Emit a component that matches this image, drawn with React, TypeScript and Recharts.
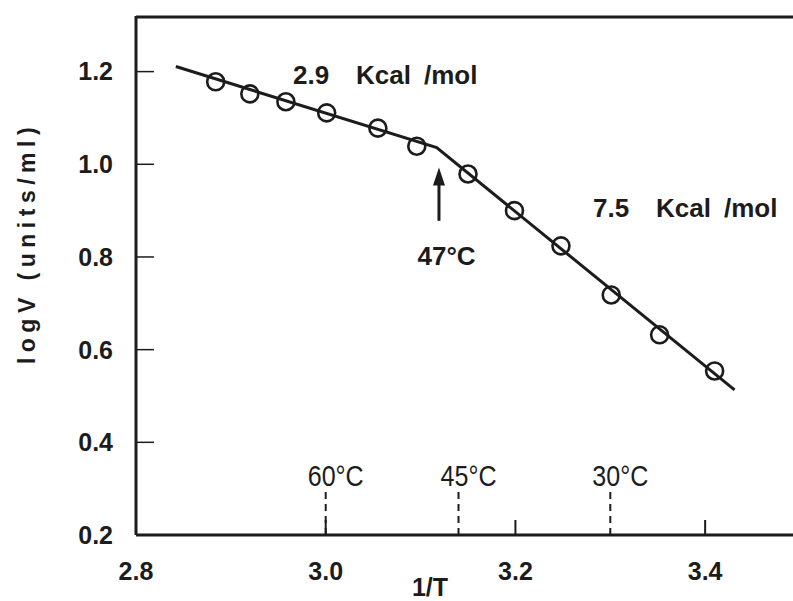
import { ComposedChart, Line, Scatter, XAxis, YAxis, ReferenceLine, ReferenceDot } from "recharts";

// measured points (1/T x 1000, log V)
const invT = [2.884, 2.92, 2.958, 3.001, 3.055, 3.096, 3.15, 3.199, 3.248, 3.301, 3.352, 3.41];
const logV = [1.178, 1.152, 1.135, 1.111, 1.078, 1.039, 0.979, 0.9, 0.824, 0.718, 0.632, 0.554];

// fitted two-segment line
const fitX = [2.842, 3.117, 3.431];
const fitY = [1.211, 1.036, 0.513];

const xTicks = [2.8, 3.0, 3.2, 3.4];
const yTicks = [0.2, 0.4, 0.6, 0.8, 1.0, 1.2];

// temperature markers on the 1/T axis
const tempLabels = ["60°C", "45°C", "30°C"];
const tempX = [3.0, 3.14, 3.3];
const tempTop = 0.3;

// activation energy annotations
const slopeLabels = ["2.9", "7.5"];
const slopeX = [2.9655, 3.2818];
const slopeY = [1.174, 0.887];

// break point
const breakLabel = "47°C";
const breakX = 3.1194;
const breakLabelY = 0.783;
const arrowTip = 0.993;
const arrowBase = 0.878;

const points = invT.map((x, i) => ({ x, y: logV[i] }));
const fit = fitX.map((x, i) => ({ x, y: fitY[i] }));

const INK = "#1c1c1c";
const FONT = "'Liberation Sans', Arial, sans-serif";

const Ring = (p: any) => (
  <circle cx={p.cx} cy={p.cy} r={8.5} fill="none" stroke={INK} strokeWidth={2.6} />
);

export default function App() {
  return (
    <div style={{ position: "absolute", left: 0, top: 0, width: 793, height: 601, overflow: "hidden", background: "#fff" }}>
      <ComposedChart width={800} height={601} margin={{ top: 16, right: 0, bottom: 0, left: 0 }}>
        <XAxis
          type="number"
          dataKey="x"
          domain={[2.8, 3.5]}
          ticks={xTicks}
          allowDataOverflow
          height={66}
          tickSize={-15}
          tickMargin={42}
          tickFormatter={(v: number) => v.toFixed(1)}
          axisLine={{ stroke: INK, strokeWidth: 3 }}
          tickLine={{ stroke: INK, strokeWidth: 2 }}
          tick={{ fill: INK, fontSize: 25, fontWeight: "bold", fontFamily: FONT }}
          label={{
            content: () => (
              <text x={430} y={596} textAnchor="middle" fill={INK} fontSize={25} fontWeight="bold" fontFamily={FONT}>
                1/T
              </text>
            ),
          }}
        />
        <YAxis
          type="number"
          dataKey="y"
          domain={[0.2, 1.32]}
          ticks={yTicks}
          allowDataOverflow
          width={136}
          tickSize={-18}
          tickMargin={41}
          tickFormatter={(v: number) => v.toFixed(1)}
          axisLine={{ stroke: INK, strokeWidth: 3 }}
          tickLine={{ stroke: INK, strokeWidth: 1.5 }}
          tick={{ fill: INK, fontSize: 25, fontWeight: "bold", fontFamily: FONT }}
          label={{
            content: () => (
              <text
                x={27}
                y={243}
                transform="rotate(-90 27 243)"
                textAnchor="middle"
                dominantBaseline="central"
                fill={INK}
                fontSize={23}
                fontWeight="bold"
                letterSpacing={5.5}
                fontFamily={FONT}
              >
                logV (units/ml)
              </text>
            ),
          }}
        />

        {/* top frame line */}
        <ReferenceLine y={1.318} stroke={INK} strokeWidth={3} ifOverflow="visible" />

        {tempX.map((t, i) => (
          <ReferenceLine
            key={`t-${i}`}
            segment={[{ x: t, y: 0.2 }, { x: t, y: tempTop }]}
            stroke={INK}
            strokeWidth={2}
            strokeDasharray="7 5"
          />
        ))}
        {tempX.map((t, i) => (
          <ReferenceDot
            key={`tl-${i}`}
            x={t}
            y={tempTop}
            r={0}
            shape={(p: any) => (
              <text
                x={p.cx - 18}
                y={p.cy - 3}
                fill={INK}
                fontSize={30}
                fontFamily={FONT}
                textLength={56}
                lengthAdjust="spacingAndGlyphs"
              >
                {tempLabels[i]}
              </text>
            )}
          />
        ))}

        {slopeX.map((sx, i) => (
          <ReferenceDot
            key={`s-${i}`}
            x={sx}
            y={slopeY[i]}
            r={0}
            shape={(p: any) => (
              <text y={p.cy} fill={INK} fontSize={26} fontWeight="bold" fontFamily={FONT}>
                <tspan x={p.cx}>{slopeLabels[i]}</tspan>
                <tspan x={p.cx + 63}>Kcal</tspan>
                <tspan x={p.cx + 131}>/mol</tspan>
              </text>
            )}
          />
        ))}

        <ReferenceLine
          segment={[{ x: breakX, y: arrowBase }, { x: breakX, y: arrowTip - 0.03 }]}
          stroke={INK}
          strokeWidth={3}
        />
        <ReferenceDot
          x={breakX}
          y={arrowTip}
          r={0}
          shape={(p: any) => (
            <polygon points={`${p.cx},${p.cy} ${p.cx - 6},${p.cy + 18} ${p.cx + 6},${p.cy + 18}`} fill={INK} />
          )}
        />
        <ReferenceDot
          x={breakX + 0.008}
          y={breakLabelY}
          r={0}
          shape={(p: any) => (
            <text x={p.cx} y={p.cy} textAnchor="middle" fill={INK} fontSize={26} fontWeight="bold" fontFamily={FONT}>
              {breakLabel}
            </text>
          )}
        />

        <Line
          data={fit}
          dataKey="y"
          type="linear"
          stroke={INK}
          strokeWidth={3}
          dot={false}
          activeDot={false}
          isAnimationActive={false}
        />
        <Scatter data={points} dataKey="y" shape={Ring} isAnimationActive={false} />
      </ComposedChart>
    </div>
  );
}
